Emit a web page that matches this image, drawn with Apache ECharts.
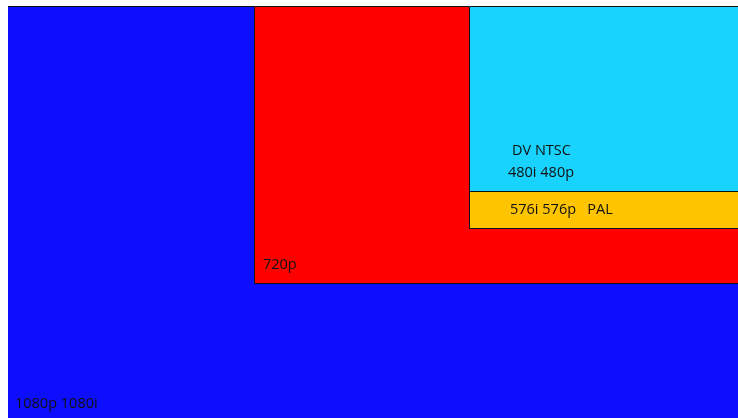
<!DOCTYPE html>
<html>
<head>
<meta charset="utf-8">
<script src="https://cdn.jsdelivr.net/npm/echarts@6/dist/echarts.min.js"></script>
<style>html,body{margin:0;padding:0;background:#fff;}#c{width:738px;height:418px;}</style>
</head>
<body>
<div id="c"></div>
<script>
// Video resolution frames (width x height in pixels), drawn largest first
const formats = ['1080p 1080i', '720p', '576i 576p PAL', 'DV NTSC 480i 480p'];
const frameWidths = [1920, 1280, 720, 720];
const frameHeights = [1080, 720, 576, 480];
const frameColors = ['#0e0eff', '#ff0000', '#ffc400', '#19d3ff'];
const labelTexts = ['1080p 1080i', '720p', '576i 576p   PAL', 'DV NTSC', '480i 480p'];

const chart = echarts.init(document.getElementById('c'), null, {renderer: 'canvas'});
const fullW = frameWidths[0];
const data = formats.map((n, i) => [fullW - frameWidths[i], fullW, 0, frameHeights[i], i]);

const labelPos = [[15, 403.5], [263, 264.5], [510, 210], [512, 150.8], [508, 172.7]];

chart.setOption({
  animation: false,
  grid: {left: 8, top: 6, width: 738, height: 416, outerBoundsMode: 'none', containLabel: false},
  xAxis: {type: 'value', min: 0, max: 1920, show: false},
  yAxis: {type: 'value', min: 0, max: 1080, inverse: true, show: false},
  series: [{
    type: 'custom',
    data: data,
    clip: false,
    renderItem: function (params, api) {
      const idx = api.value(4);
      const a = api.coord([api.value(0), api.value(2)]);
      const b = api.coord([api.value(1), api.value(3)]);
      const x0 = Math.round(a[0]) + 0.5, y0 = Math.round(a[1]) + 0.5;
      const x1 = Math.round(b[0]) + 0.5, y1 = Math.round(b[1]) + 0.5;
      const edge = idx === 0
        ? [[x0 - 0.5, y0], [x1, y0]]
        : [[x1, y0], [x0, y0], [x0, y1], [x1, y1]];
      return {
        type: 'group',
        children: [
          {type: 'rect', shape: {x: x0 - 0.5, y: y0 - 0.5, width: x1 - x0, height: y1 - y0},
           style: {fill: frameColors[idx]}},
          {type: 'polyline', shape: {points: edge},
           style: {fill: null, stroke: '#111', lineWidth: 1}}
        ]
      };
    }
  }],
  graphic: labelTexts.map((t, i) => ({
    type: 'text',
    x: labelPos[i][0],
    y: labelPos[i][1],
    z: 100,
    style: {text: t, fill: '#111', font: '14.5px "Open Sans"', align: 'left', verticalAlign: 'middle'}
  }))
});
</script>
</body>
</html>
